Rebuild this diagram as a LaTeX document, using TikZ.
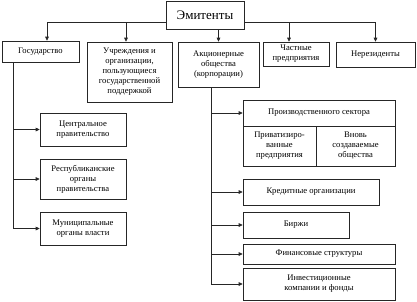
\documentclass[tikz,border=0pt]{standalone}
\usepackage{fontspec}
\setmainfont{Liberation Serif}
\usetikzlibrary{arrows.meta,positioning,calc}

\begin{document}
\begin{tikzpicture}[x=1pt,y=-1pt,font=\fontsize{8.6}{10}\selectfont,
 box/.style={draw=black!85,line width=.6pt,align=center,inner sep=1pt,fill=white},
 ar/.style={-{Triangle[length=4pt,width=3.6pt]},line width=.6pt,draw=black!85}]
\useasboundingbox (0,0) rectangle (417,301);
% top level
\node[box,minimum width=78pt,minimum height=28pt,font=\fontsize{13}{15}\selectfont] (emit) at (205,15) {Эмитенты};
\node[box,minimum width=77pt,minimum height=21pt] (gos) at (40.5,51.5) {Государство};
\node[box,minimum width=85pt,minimum height=60pt] (uchr) at (129.5,72)
 {Учреждения и\\организации,\\пользующиеся\\государственной\\поддержкой};
\node[box,minimum width=81pt,minimum height=45pt] (akc) at (218.5,64.5)
 {Акционерные\\общества\\(корпорации)};
\node[box,minimum width=66pt,minimum height=24pt] (chast) at (296,54) {Частные\\предприятия};
\node[box,minimum width=79pt,minimum height=25pt] (nerez) at (375.5,54.5) {Нерезиденты};
\draw[ar] ([yshift=-7pt]emit.west) -| ([xshift=6.5pt]gos.north);
\draw[ar] ([yshift=-7pt]emit.west) -| ([xshift=-3.5pt]uchr.north);
\draw[ar] (akc.north |- emit.south) -- (akc.north);
\draw[ar] ([yshift=-7pt]emit.east) -| ([xshift=-7pt]chast.north);
\draw[ar] ([yshift=-7pt]emit.east) -| (nerez.north);
% state bodies
\node[box,minimum width=86pt,minimum height=33pt] (centr) at (83,129.5) {Центральное\\правительство};
\node[box,minimum width=86pt,minimum height=40pt] (resp) at (83,179) {Республиканские\\органы\\правительства};
\node[box,minimum width=86pt,minimum height=33pt] (munic) at (83,228.5) {Муниципальные\\органы власти};
\draw[ar] ([xshift=12pt]gos.south west) |- (centr.west);
\draw[ar] ([xshift=12pt]gos.south west) |- (resp.west);
\draw[ar] ([xshift=12pt]gos.south west) |- (munic.west);
% corporations
\node[box,minimum width=152pt,minimum height=26pt] (proizv) at (319,113) {Производственного сектора};
\node[box,minimum width=73pt,minimum height=40pt] (privat) at (279.5,146) {Приватизиро-\\ванные\\предприятия};
\node[box,minimum width=79pt,minimum height=40pt] (vnov) at (355.5,146) {Вновь\\создаваемые\\общества};
\node[box,minimum width=136pt,minimum height=26pt] (kred) at (311,192) {Кредитные организации};
\node[box,minimum width=106pt,minimum height=26pt] (birzh) at (296,225) {Биржи};
\node[box,minimum width=152pt,minimum height=20pt] (fin) at (319,254) {Финансовые структуры};
\node[box,minimum width=152pt,minimum height=32pt] (invest) at (319,284) {Инвестиционные\\компании и фонды};
\draw[ar] ([xshift=34pt]akc.south west) |- (proizv.west);
\draw[ar] ([xshift=34pt]akc.south west) |- (kred.west);
\draw[ar] ([xshift=34pt]akc.south west) |- (birzh.west);
\draw[ar] ([xshift=34pt]akc.south west) |- (fin.west);
\draw[ar] ([xshift=34pt]akc.south west) |- (invest.west);
\end{tikzpicture}
\end{document}
